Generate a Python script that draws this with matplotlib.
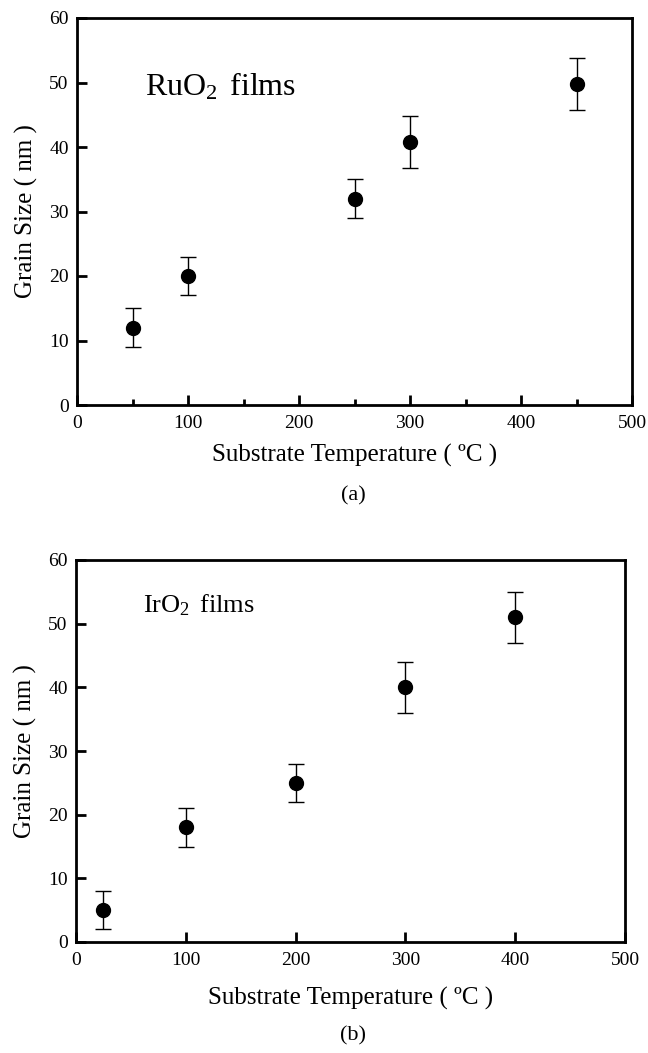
import matplotlib
matplotlib.use("Agg")
import matplotlib.pyplot as plt
from matplotlib.ticker import MultipleLocator

plt.rcParams['font.family'] = ['Liberation Serif', 'DejaVu Serif']
plt.rcParams['mathtext.fontset'] = 'custom'
plt.rcParams['mathtext.rm'] = 'Liberation Serif'
plt.rcParams['mathtext.it'] = 'Liberation Serif:italic'

### DATA ###
# (a) RuO2 films
temp_ru = [50, 100, 250, 300, 450]
size_ru = [12, 20, 32, 40.8, 49.8]
err_ru = [3, 3, 3, 4, 4]

# (b) IrO2 films
temp_ir = [25, 100, 200, 300, 400]
size_ir = [5, 18, 25, 40, 51]
err_ir = [3, 3, 3, 4, 4]

fig = plt.figure(figsize=(6.48, 10.53), dpi=100)

ax1 = fig.add_axes([77/648, 1 - 405/1053, 555/648, 387/1053])
ax2 = fig.add_axes([76/648, 1 - 942/1053, 549/648, 382/1053])


def style_axes(ax, minor_x, xpad):
    ax.set_xlim(0, 500)
    ax.set_ylim(0, 60)
    ax.xaxis.set_major_locator(MultipleLocator(100))
    ax.yaxis.set_major_locator(MultipleLocator(10))
    if minor_x:
        ax.xaxis.set_minor_locator(MultipleLocator(50))
    for s in ax.spines.values():
        s.set_linewidth(2.0)
    ax.tick_params(axis='both', which='major', direction='in', length=7, width=2,
                   labelsize=14, top=False, right=False)
    ax.tick_params(axis='x', which='major', pad=7)
    ax.tick_params(axis='y', which='major', pad=6)
    ax.tick_params(axis='x', which='minor', direction='in', length=4.5, width=2,
                   top=False)
    ax.set_xlabel("Substrate Temperature ( ºC )", fontsize=18, labelpad=xpad)
    ax.set_ylabel("Grain Size ( nm )", fontsize=18, labelpad=8)


ax1.errorbar(temp_ru, size_ru, yerr=err_ru, fmt='o', color='black',
             markersize=10, capsize=6, elinewidth=1, capthick=1)
style_axes(ax1, True, 9)
ax1.text(0.122, 0.80, r"RuO$_{\mathregular{2}}\,$ films", transform=ax1.transAxes,
         fontsize=23, va='baseline')

ax2.errorbar(temp_ir, size_ir, yerr=err_ir, fmt='o', color='black',
             markersize=10, capsize=6, elinewidth=1, capthick=1)
style_axes(ax2, False, 13)
ax2.text(0.122, 0.863, r"IrO$_{\mathregular{2}}\,$ films", transform=ax2.transAxes,
         fontsize=19, va='baseline')

fig.text(0.545, 1 - 496/1053, "(a)", fontsize=16, ha='center', va='center')
fig.text(0.545, 1 - 1036/1053, "(b)", fontsize=16, ha='center', va='center')

fig.savefig("out.png", dpi=100)
